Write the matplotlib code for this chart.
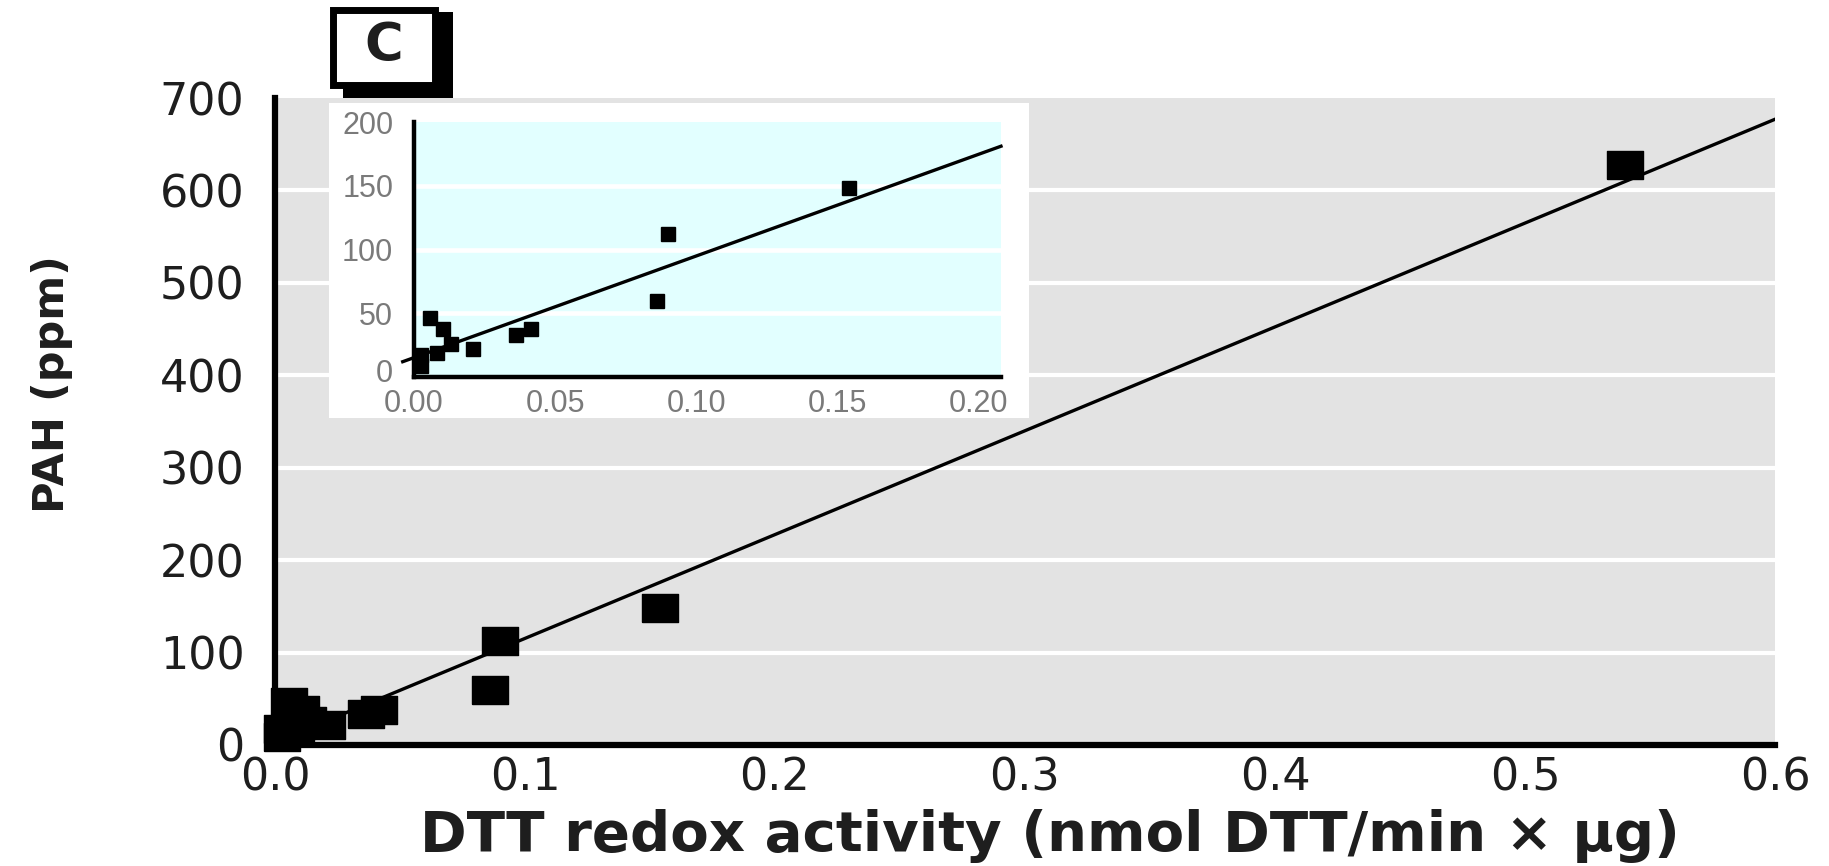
import matplotlib
matplotlib.use('Agg')
import matplotlib.pyplot as plt
import matplotlib.transforms as mtransforms
from matplotlib.patches import Rectangle

W, H, DPI = 1829, 866, 100
plt.rcParams['font.family'] = ['DejaVu Sans']

# ── data ────────────────────────────────────────────────────────────────
dtt = [0.0026, 0.0026, 0.0055, 0.0082, 0.0104, 0.013, 0.0209,
       0.0362, 0.0416, 0.086, 0.090, 0.154, 0.54]
pah = [9, 17, 46, 19, 38, 26, 22, 33, 38, 60, 112, 148, 628]

# regression lines (endpoints)
fit_x = [0.0, 0.6]
fit_y = [3, 677]
inset_fit_x = [-0.004, 0.208]
inset_fit_y = [12, 181]

main_yticks = [0, 100, 200, 300, 400, 500, 600, 700]
main_xticks = [0.0, 0.1, 0.2, 0.3, 0.4, 0.5, 0.6]
inset_yticks = [0, 50, 100, 150, 200]
inset_xticks = [0.0, 0.05, 0.10, 0.15, 0.20]

fig = plt.figure(figsize=(W / DPI, H / DPI), dpi=DPI)
fig.patch.set_facecolor('white')


def px_rect(x0, y0, x1, y1):
    # pixel box (top-left origin) -> figure fraction rect
    return [x0 / W, 1 - y1 / H, (x1 - x0) / W, (y1 - y0) / H]


# ── main axes ───────────────────────────────────────────────────────────
ax = fig.add_axes(px_rect(275, 98, 1775, 745), zorder=0)
ax.set_facecolor('#e3e3e3')
ax.set_xlim(0, 0.6)
ax.set_ylim(0, 700)
ax.set_xticks(main_xticks)
ax.set_xticklabels([f'{v:.1f}' for v in main_xticks])
ax.set_yticks(main_yticks)
for v in main_yticks[1:-1]:
    ax.axhline(v, color='white', lw=3, zorder=1)
for s in ('top', 'right'):
    ax.spines[s].set_visible(False)
for s in ('left', 'bottom'):
    ax.spines[s].set_linewidth(4.5)
    ax.spines[s].set_color('black')
    ax.spines[s].set_zorder(2)
ax.tick_params(axis='y', length=0, pad=22, labelsize=32, labelcolor='#1e1e1e')
ax.tick_params(axis='x', length=0, pad=8, labelsize=32, labelcolor='#1e1e1e')

ax.plot(fit_x, fit_y, color='black', lw=2.4, zorder=3)
rect_marker = [(-1, -0.78), (1, -0.78), (1, 0.78), (-1, 0.78), (-1, -0.78)]
ax.plot(dtt, pah, ls='none', marker=rect_marker, ms=26.5,
        mfc='black', mec='black', zorder=4, clip_on=False)

fig.text(52 / W, 1 - 384 / H, 'PAH (ppm)', rotation=90, ha='center',
         va='center', fontsize=31, fontweight='bold', color='#1e1e1e')
fig.text(1050 / W, 1 - 851 / H, 'DTT redox activity (nmol DTT/min \u00d7 \u00b5g)',
         ha='center', va='baseline', fontsize=40.5, fontweight='bold',
         color='#1e1e1e')

# ── overlay: panel letter box and inset backdrop ───────────────────────
ov = fig.add_axes([0, 0, 1, 1], zorder=1)
ov.set_xlim(0, W)
ov.set_ylim(H, 0)
ov.axis('off')
ov.patch.set_alpha(0)
ov.add_patch(Rectangle((329, 103), 700, 315, fc='white', ec='none'))
ov.add_patch(Rectangle((343, 12), 110, 86, fc='black', ec='none'))
ov.add_patch(Rectangle((333, 10), 102, 75, fc='white', ec='black', lw=5))
ov.text(384, 46, 'C', ha='center', va='center', fontsize=38,
        fontweight='bold', color='#1e1e1e')

# ── inset axes ──────────────────────────────────────────────────────────
ins = fig.add_axes(px_rect(414, 122, 1001, 377), zorder=2)
ins.set_facecolor('#e2ffff')
ins.set_xlim(0, 0.208)
ins.set_ylim(0, 200)
ins.set_xticks(inset_xticks)
ins.set_xticklabels([f'{v:.2f}' for v in inset_xticks])
ins.set_yticks(inset_yticks)
for v in inset_yticks[1:-1]:
    ins.axhline(v, color='white', lw=3.3, zorder=1)
for s in ('top', 'right'):
    ins.spines[s].set_visible(False)
for s in ('left', 'bottom'):
    ins.spines[s].set_linewidth(3.2)
    ins.spines[s].set_color('black')
ins.tick_params(axis='y', length=0, pad=15, labelsize=22, labelcolor='#7a7a7a',
                labelfontfamily='Liberation Sans')
ins.tick_params(axis='x', length=0, pad=9, labelsize=22, labelcolor='#7a7a7a',
                labelfontfamily='Liberation Sans')

# lift the inset's "0" a touch so it clears the x labels
lab0 = ins.get_yticklabels()[0]
lab0.set_transform(lab0.get_transform() +
                   mtransforms.ScaledTranslation(0, 5 / 72, fig.dpi_scale_trans))

ins.plot(inset_fit_x, inset_fit_y, color='black', lw=2.4, zorder=3, clip_on=False)
ins.plot(dtt, pah, ls='none', marker='s', ms=10.5,
         mfc='black', mec='black', zorder=4)

fig.savefig('out.png', dpi=DPI, facecolor='white')
